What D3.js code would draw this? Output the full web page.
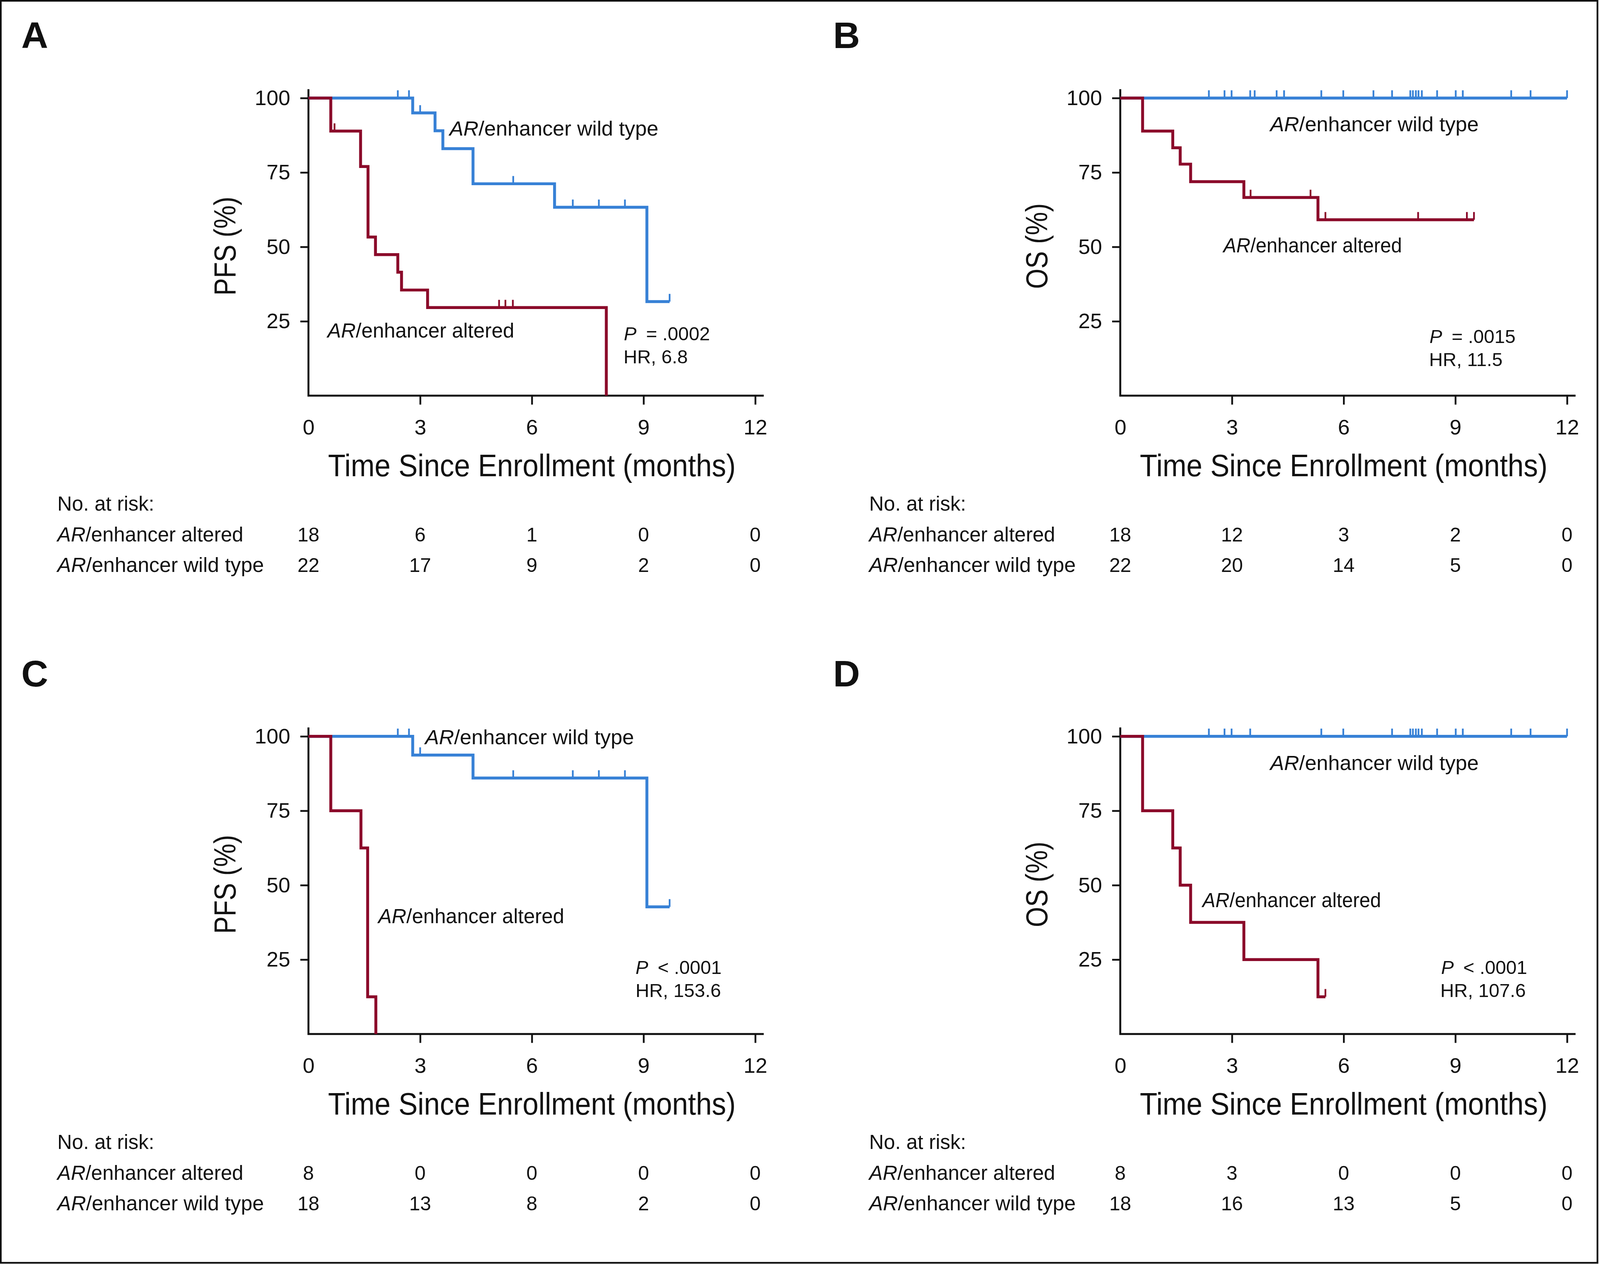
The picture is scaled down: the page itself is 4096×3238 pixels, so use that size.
<!DOCTYPE html>
<html><head><meta charset="utf-8">
<script src="https://cdn.jsdelivr.net/npm/d3@7"></script>
<style>
html,body{margin:0;padding:0;background:#fff;}
svg{display:block;}
text{font-family:"Liberation Sans",Arial,Helvetica,sans-serif;fill:#111;}
</style></head><body>
<svg id="fig" width="4096" height="3238"></svg>
<script>
// ---------------- DATA ----------------
const monthTicks = [0, 3, 6, 9, 12];
const pctTicks = [25, 50, 75, 100];
const groupAltered = "enhancer altered";
const groupWild = "enhancer wild type";

// Panel A – PFS (all)
const A_altered_steps = [[0,100],[0.60,88.9],[1.40,77.0],[1.60,53.3],[1.80,47.4],[2.40,41.5],[2.50,35.5],[3.20,29.6],[8.00,0]];
const A_altered_censor = [0.70, 5.12, 5.29, 5.49];
const A_wild_steps = [[0,100],[2.80,95.0],[3.40,89.0],[3.61,83.0],[4.42,71.2],[6.61,63.3],[9.09,31.6],[9.70,31.6]];
const A_wild_censor = [2.40, 2.70, 3.00, 5.50, 7.10, 7.80, 8.50, 9.70];
const A_risk_altered = [18, 6, 1, 0, 0];
const A_risk_wild = [22, 17, 9, 2, 0];

// Panel B – OS (all)
const B_altered_steps = [[0,100],[0.60,88.9],[1.41,83.3],[1.61,77.8],[1.89,71.9],[3.32,66.6],[5.31,59.1],[9.50,59.1]];
const B_altered_censor = [3.50, 5.11, 5.51, 8.00, 9.31, 9.50];
const B_wild_steps = [[0,100],[12,100]];
const B_wild_censor = [2.38,2.80,2.99,3.49,3.61,4.20,4.40,5.40,5.99,6.80,7.30,7.79,7.86,7.94,8.01,8.10,8.51,9.01,9.20,10.50,11.02,12.0];
const B_risk_altered = [18, 12, 3, 2, 0];
const B_risk_wild = [22, 20, 14, 5, 0];

// Panel C – PFS (subset)
const C_altered_steps = [[0,100],[0.60,75.0],[1.41,62.5],[1.59,12.5],[1.81,0]];
const C_altered_censor = [];
const C_wild_steps = [[0,100],[2.80,93.7],[4.42,86.0],[9.09,42.7],[9.70,42.7]];
const C_wild_censor = [2.40, 2.70, 3.00, 5.50, 7.10, 7.80, 8.50, 9.70];
const C_risk_altered = [8, 0, 0, 0, 0];
const C_risk_wild = [18, 13, 8, 2, 0];

// Panel D – OS (subset)
const D_altered_steps = [[0,100],[0.60,75.0],[1.41,62.5],[1.61,50.0],[1.89,37.5],[3.32,25.0],[5.31,12.5],[5.51,12.5]];
const D_altered_censor = [5.51];
const D_wild_steps = [[0,100],[12,100]];
const D_wild_censor = [2.38,2.80,2.99,3.49,5.40,5.99,7.30,7.79,7.86,7.94,8.01,8.10,8.51,9.01,9.20,10.50,11.02,12.0];
const D_risk_altered = [8, 3, 0, 0, 0];
const D_risk_wild = [18, 16, 13, 5, 0];

const panelLetters = ["A", "B", "C", "D"];
const yTitles = ["PFS (%)", "OS (%)", "PFS (%)", "OS (%)"];
const pTexts = ["= .0002", "= .0015", "< .0001", "< .0001"];
const hrTexts = ["HR, 6.8", "HR, 11.5", "HR, 153.6", "HR, 107.6"];

// ---------------- LAYOUT (reference pixels) ----------------
const RED = "#8b0a2a", BLUE = "#3781d6", INK = "#111";
const svg = d3.select("#fig");
svg.append("rect").attr("width", 4096).attr("height", 3238).attr("fill", "#fff");
const root = svg.append("g").attr("transform", "scale(0.992)");
root.append("rect").attr("x", 2).attr("y", 2).attr("width", 4120.5).attr("height", 3256.5)
  .attr("fill", "none").attr("stroke", INK).attr("stroke-width", 4.5);

const panels = [
  {x0: 796, y0: 1021, alt: A_altered_steps, altC: A_altered_censor, wt: A_wild_steps, wtC: A_wild_censor, rA: A_risk_altered, rW: A_risk_wild,
   tLen: 255, wild: [364, -671, 539], altered: [49, -150, 482], p: [814, -143], hr: [813, -83]},
  {x0: 2891, y0: 1021, alt: B_altered_steps, altC: B_altered_censor, wt: B_wild_steps, wtC: B_wild_censor, rA: B_risk_altered, rW: B_risk_wild,
   tLen: 221, wild: [387, -682, 538], altered: [266, -370, 461], p: [798, -136], hr: [797, -76]},
  {x0: 796, y0: 2668, alt: C_altered_steps, altC: C_altered_censor, wt: C_wild_steps, wtC: C_wild_censor, rA: C_risk_altered, rW: C_risk_wild,
   tLen: 255, wild: [301, -748, 539], altered: [180, -286, 480], p: [844, -155], hr: [844, -95]},
  {x0: 2891, y0: 2668, alt: D_altered_steps, altC: D_altered_censor, wt: D_wild_steps, wtC: D_wild_censor, rA: D_risk_altered, rW: D_risk_wild,
   tLen: 221, wild: [387, -681, 538], altered: [212, -327, 461], p: [828, -155], hr: [826, -95]}
];

function survAt(steps, t) {
  let v = steps[0][1];
  for (const s of steps) { if (s[0] <= t + 1e-9) v = s[1]; }
  return v;
}

function groupLabel(g, x, y, rest, size, len) {
  const t = g.append("text").attr("x", x).attr("y", y).attr("font-size", size);
  t.append("tspan").attr("font-style", "italic").text("AR");
  t.append("tspan").text("/" + rest);
  if (len) t.attr("textLength", len).attr("lengthAdjust", "spacingAndGlyphs");
  return t;
}

panels.forEach((P, i) => {
  const g = root.append("g");
  const x = d3.scaleLinear().domain([0, 12]).range([P.x0, P.x0 + 1153]);
  const y = d3.scaleLinear().domain([0, 100]).range([P.y0, P.y0 - 768]);

  // axes
  const xa = g.append("g").attr("transform", `translate(0,${y(0)})`)
    .call(d3.axisBottom(x).tickValues(monthTicks).tickSize(23).tickPadding(38).tickSizeOuter(0));
  xa.attr("font-size", 55).attr("font-family", null).attr("color", INK);
  xa.select(".domain").remove();
  xa.selectAll(".tick line").attr("stroke-width", 4.6).filter(d => d === 0).remove();

  const ya = g.append("g").attr("transform", `translate(${x(0)},0)`)
    .call(d3.axisLeft(y).tickValues(pctTicks).tickSize(21).tickPadding(26).tickSizeOuter(0));
  ya.attr("font-size", 55).attr("font-family", null).attr("color", INK);
  ya.select(".domain").remove();
  ya.selectAll(".tick line").attr("stroke-width", 4.6);

  g.append("path")
    .attr("d", `M${x(0)},${y(100) - 23}V${y(0)}H${x(12) + 22}`)
    .attr("fill", "none").attr("stroke", INK).attr("stroke-width", 5).attr("stroke-linejoin", "miter");

  // curves
  const line = d3.line().x(d => x(d[0])).y(d => y(d[1])).curve(d3.curveStepAfter);
  const series = [[P.wt, P.wtC, BLUE], [P.alt, P.altC, RED]];
  series.forEach(([steps, cens, col]) => {
    g.append("path").attr("d", line(steps)).attr("fill", "none").attr("stroke", col)
      .attr("stroke-width", 7.5).attr("stroke-linejoin", "miter").attr("stroke-linecap", "butt");
    g.selectAll(null).data(cens).join("line")
      .attr("x1", d => x(d)).attr("x2", d => x(d))
      .attr("y1", d => y(survAt(steps, d))).attr("y2", d => y(survAt(steps, d)) - 20)
      .attr("stroke", col).attr("stroke-width", 4.5);
  });

  // titles
  g.append("text").attr("x", x(6)).attr("y", y(0) + 208).attr("text-anchor", "middle")
    .attr("font-size", 81).attr("textLength", 1052).attr("lengthAdjust", "spacingAndGlyphs")
    .text("Time Since Enrollment (months)");
  g.append("text").attr("transform", `translate(${P.x0 - 188},${P.y0 - 386}) rotate(-90)`)
    .attr("text-anchor", "middle").attr("font-size", 78)
    .attr("textLength", P.tLen).attr("lengthAdjust", "spacingAndGlyphs").text(yTitles[i]);
  g.append("text").attr("x", P.x0 - 741).attr("y", P.y0 - 897).attr("font-size", 96)
    .attr("font-weight", "bold").text(panelLetters[i]);

  // annotations
  groupLabel(g, P.x0 + P.wild[0], P.y0 + P.wild[1], groupWild, 52, P.wild[2]);
  groupLabel(g, P.x0 + P.altered[0], P.y0 + P.altered[1], groupAltered, 52, P.altered[2]);
  const pt = g.append("text").attr("x", P.x0 + P.p[0]).attr("y", P.y0 + P.p[1]).attr("font-size", 49);
  pt.append("tspan").attr("font-style", "italic").text("P");
  pt.append("tspan").attr("dx", 11).text(" " + pTexts[i]);
  g.append("text").attr("x", P.x0 + P.hr[0]).attr("y", P.y0 + P.hr[1]).attr("font-size", 49).text(hrTexts[i]);

  // risk table
  const tx = P.x0 - 648;
  g.append("text").attr("x", tx).attr("y", P.y0 + 297).attr("font-size", 52)
    .attr("textLength", 250).attr("lengthAdjust", "spacingAndGlyphs").text("No. at risk:");
  groupLabel(g, tx, P.y0 + 376, groupAltered, 52, 480);
  groupLabel(g, tx, P.y0 + 455, groupWild, 52, 533);
  [[P.rA, 376], [P.rW, 455]].forEach(([vals, dy]) => {
    g.selectAll(null).data(vals).join("text")
      .attr("x", (d, k) => x(monthTicks[k])).attr("y", P.y0 + dy)
      .attr("text-anchor", "middle").attr("font-size", 51).text(d => d);
  });
});
</script>
</body></html>
